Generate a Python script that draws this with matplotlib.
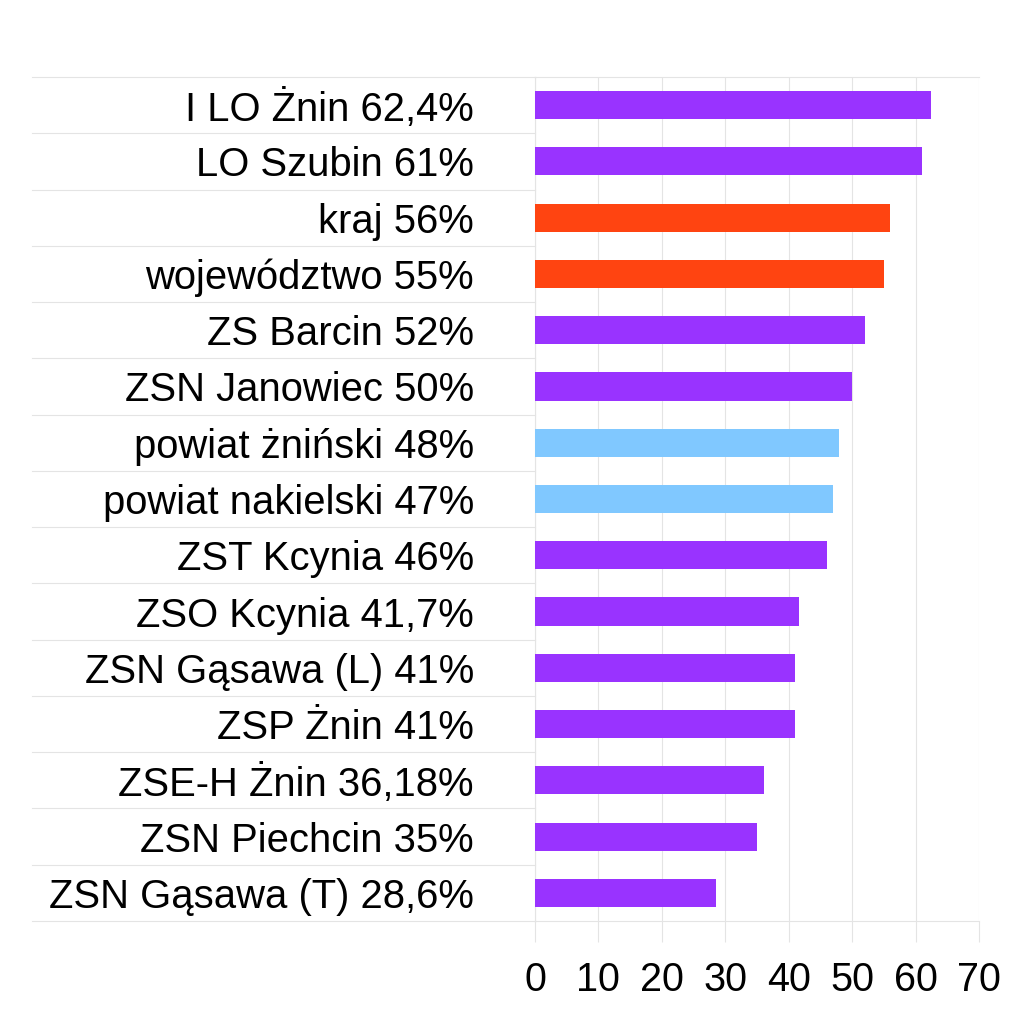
import matplotlib
matplotlib.use("Agg")
import matplotlib.pyplot as plt

labels = ["I LO Żnin 62,4%", "LO Szubin 61%", "kraj 56%", "województwo 55%",
          "ZS Barcin 52%", "ZSN Janowiec 50%", "powiat żniński 48%",
          "powiat nakielski 47%", "ZST Kcynia 46%", "ZSO Kcynia 41,7%",
          "ZSN Gąsawa (L) 41%", "ZSP Żnin 41%", "ZSE-H Żnin 36,18%",
          "ZSN Piechcin 35%", "ZSN Gąsawa (T) 28,6%"]
values = [62.4, 61, 56, 55, 52, 50, 48, 47, 46, 41.7, 41, 41, 36.18, 35, 28.6]
groups = ["school", "school", "region", "region", "school", "school", "county",
          "county", "school", "school", "school", "school", "school", "school", "school"]
xticks = [0, 10, 20, 30, 40, 50, 60, 70]

palette = {"school": "#9933FF", "region": "#FF4411", "county": "#80C8FF"}
grid_c = "#e4e4e4"

plt.rcParams['font.family'] = ['Liberation Sans', 'DejaVu Sans']

W, H = 1027, 1021
fig = plt.figure(figsize=(W / 100, H / 100), dpi=100)
L, R, T, B = 535, 979, 77, 921
ax = fig.add_axes([L / W, 1 - B / H, (R - L) / W, (B - T) / H])

n = len(labels)
ypos = list(range(n))
ax.barh(ypos, values, height=0.5, color=[palette[g] for g in groups], zorder=3)
ax.set_ylim(n - 0.5, -0.5)
ax.set_xlim(0, 70)
ax.set_xticks(xticks)
ax.set_xticklabels([str(v) for v in xticks], fontsize=28.5)
ax.set_yticks(ypos)
ax.set_yticklabels(labels, fontsize=28.8)
ax.tick_params(axis='y', length=0, pad=44)
ax.tick_params(axis='x', length=15, width=0.8, color=grid_c, pad=14)
ax.grid(axis='x', color=grid_c, linewidth=0.8, zorder=0)
for s in ['top', 'bottom', 'left']:
    ax.spines[s].set_color(grid_c)
    ax.spines[s].set_linewidth(0.8)
ax.spines['right'].set_visible(False)

# separator lines in label area
x0 = (32 - L) / (R - L)
tr = ax.get_yaxis_transform()
for k in range(n + 1):
    ax.plot([x0, 0], [k - 0.5, k - 0.5], transform=tr, color=grid_c,
            linewidth=0.8, clip_on=False, zorder=1)

fig.savefig("out.png", dpi=100)
